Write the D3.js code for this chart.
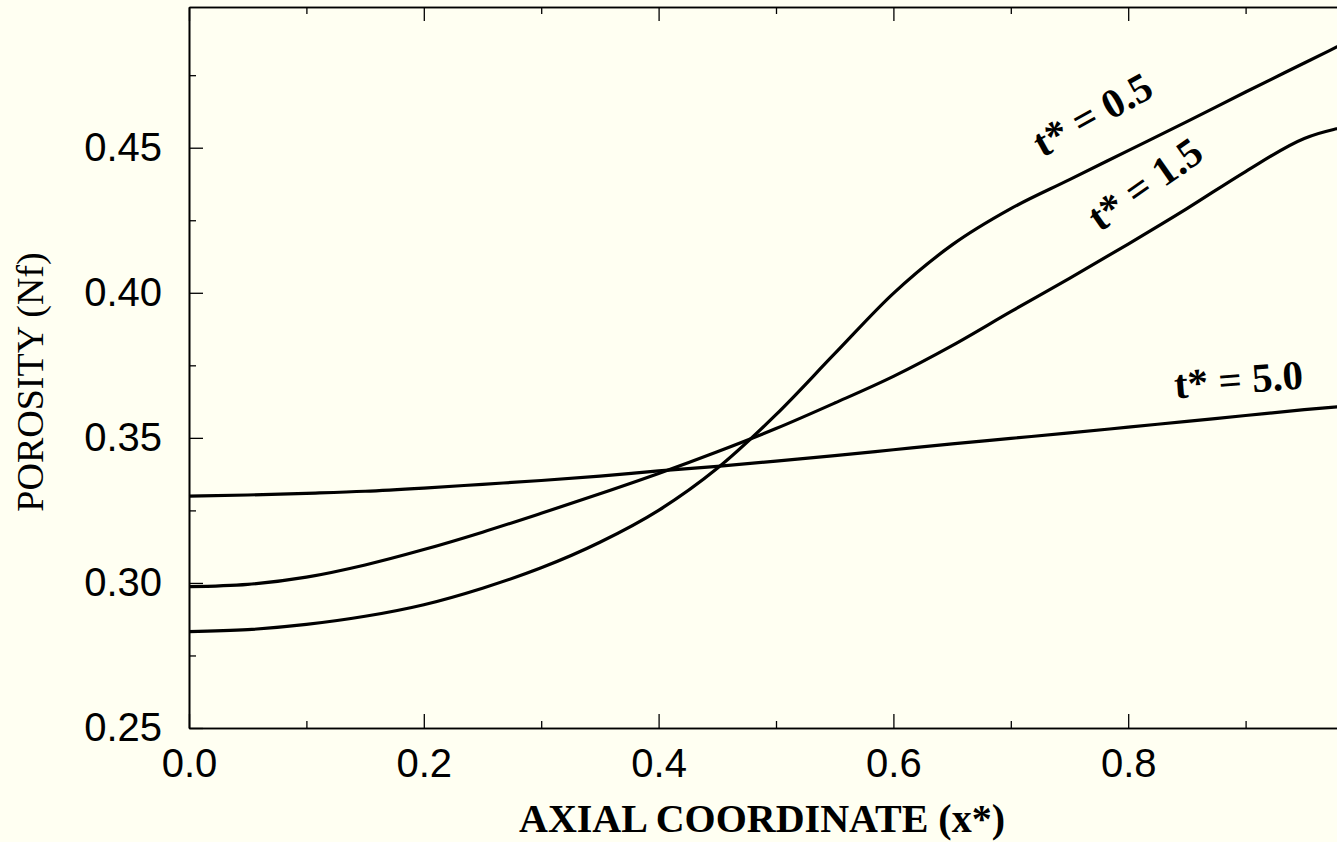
<!DOCTYPE html>
<html>
<head>
<meta charset="utf-8">
<script src="https://cdn.jsdelivr.net/npm/d3@7"></script>
<style>
	html, body { margin: 0; padding: 0; background: #fffff2; overflow: hidden; }
	svg { display: block; }
</style>
</head>
<body>
<svg id="chart" width="1337" height="842"></svg>
<script>
// ________ data ________
const xs = [0, 0.05, 0.1, 0.15, 0.2, 0.25, 0.3, 0.35, 0.4, 0.45, 0.5,
	0.55, 0.6, 0.65, 0.7, 0.75, 0.8, 0.85, 0.9, 0.95, 1.0];
const t05 = [0.2832, 0.2839, 0.2857, 0.2885, 0.2925, 0.2982, 0.3052, 0.3140, 0.3250, 0.3395, 0.3580,
	0.3790, 0.3998, 0.4165, 0.4290, 0.4390, 0.4490, 0.4590, 0.4692, 0.4792, 0.4892];
const t15 = [0.2987, 0.2995, 0.3020, 0.3062, 0.3115, 0.3175, 0.3240, 0.3307, 0.3377, 0.3452, 0.3532,
	0.3620, 0.3712, 0.3818, 0.3935, 0.4050, 0.4168, 0.4290, 0.4418, 0.4532, 0.4582];
const t50 = [0.3299, 0.3303, 0.3309, 0.3316, 0.3327, 0.3340, 0.3353, 0.3368, 0.3386, 0.3402, 0.3420,
	0.3439, 0.3459, 0.3479, 0.3498, 0.3517, 0.3537, 0.3557, 0.3577, 0.3597, 0.3615];
const seriesNames = ['t* = 0.5', 't* = 1.5', 't* = 5.0'];
const xMajor = [0, 0.2, 0.4, 0.6, 0.8, 1.0];
const xLabelled = [0, 0.2, 0.4, 0.6, 0.8];
const xMinor = [0.1, 0.3, 0.5, 0.7, 0.9];
const yMajor = [0.25, 0.30, 0.35, 0.40, 0.45];
const yMinor = [0.275, 0.325, 0.375, 0.425, 0.475];

// ________ layout ________
const mLeft = 189, mRight = 1363, mTop = 7, mBottom = 728;
const svg = d3.select('#chart');

const x = d3.scaleLinear().domain([0, 1]).range([mLeft, mRight]);
const y = d3.scaleLinear().domain([0.25, 0.4985]).range([mBottom, mTop]);

const sans = 'Arial, "Liberation Sans", Helvetica, sans-serif';
const serif = '"Times New Roman", "Liberation Serif", Times, serif';

// frame + ticks (all ticks point inwards)
svg.append('g').attr('transform', `translate(0,${mBottom})`)
	.call(d3.axisBottom(x).tickValues(xLabelled).tickSize(-14).tickSizeOuter(0)
		.tickPadding(21).tickFormat(d3.format('.1f')));
svg.append('g').attr('transform', `translate(0,${mBottom})`)
	.call(d3.axisBottom(x).tickValues(xMinor).tickSize(-7).tickSizeOuter(0).tickFormat(''));
svg.append('g').attr('transform', `translate(0,${mTop})`)
	.call(d3.axisTop(x).tickValues(xMajor).tickSize(-14).tickSizeOuter(0).tickFormat(''));
svg.append('g').attr('transform', `translate(0,${mTop})`)
	.call(d3.axisTop(x).tickValues(xMinor).tickSize(-7).tickSizeOuter(0).tickFormat(''));

svg.append('g').attr('transform', `translate(${mLeft},0)`)
	.call(d3.axisLeft(y).tickValues(yMajor).tickSize(-14).tickSizeOuter(0)
		.tickPadding(27).tickFormat(d3.format('.2f')));
svg.append('g').attr('transform', `translate(${mLeft},0)`)
	.call(d3.axisLeft(y).tickValues(yMinor).tickSize(-7).tickSizeOuter(0).tickFormat(''));
svg.append('g').attr('transform', `translate(${mRight},0)`)
	.call(d3.axisRight(y).tickValues(yMajor).tickSize(-14).tickSizeOuter(0).tickFormat(''));

svg.selectAll('.domain').attr('stroke', '#000').attr('stroke-width', 1.6);
svg.selectAll('.tick line').attr('stroke', '#000').attr('stroke-width', 1.3);
svg.selectAll('.tick text')
	.attr('fill', '#000')
	.style('font-family', sans)
	.style('font-size', '40px');

// curves
const line = d3.line()
	.x((d, i) => x(xs[i]))
	.y(d => y(d))
	.curve(d3.curveMonotoneX);

svg.append('g')
	.selectAll('path')
	.data([t05, t15, t50])
	.join('path')
	.attr('d', line)
	.attr('fill', 'none')
	.attr('stroke', '#000')
	.attr('stroke-width', 3.2)
	.attr('stroke-linejoin', 'round');

// curve labels, anchored on the x position and tilted like the curve
const labelAt = [
	{x: 0.727, dy: -5, angle: -29},
	{x: 0.776, dy: 2, angle: -35},
	{x: 0.840, dy: 6, angle: -4.5}
];
svg.append('g')
	.selectAll('text')
	.data(seriesNames)
	.join('text')
	.attr('transform', (d, i) => {
		const p = labelAt[i];
		const vals = [t05, t15, t50][i];
		// label sits a little above its own curve
		const base = y(d3.scaleLinear().domain(xs).range(vals)(p.x)) - 30 + p.dy;
		return `translate(${x(p.x)},${base}) rotate(${p.angle})`;
	})
	.style('font-family', serif)
	.style('font-weight', 'bold')
	.style('font-size', '41px')
	.text(d => d);

// axis titles
svg.append('text')
	.attr('transform', `translate(43,382) rotate(-90)`)
	.attr('text-anchor', 'middle')
	.style('font-family', serif)
	.style('font-size', '38px')
	.text('POROSITY (Nf)');

svg.append('text')
	.attr('x', 762)
	.attr('y', 832)
	.attr('text-anchor', 'middle')
	.style('font-family', serif)
	.style('font-weight', 'bold')
	.style('font-size', '40px')
	.text('AXIAL COORDINATE (x*)');
</script>
</body>
</html>
